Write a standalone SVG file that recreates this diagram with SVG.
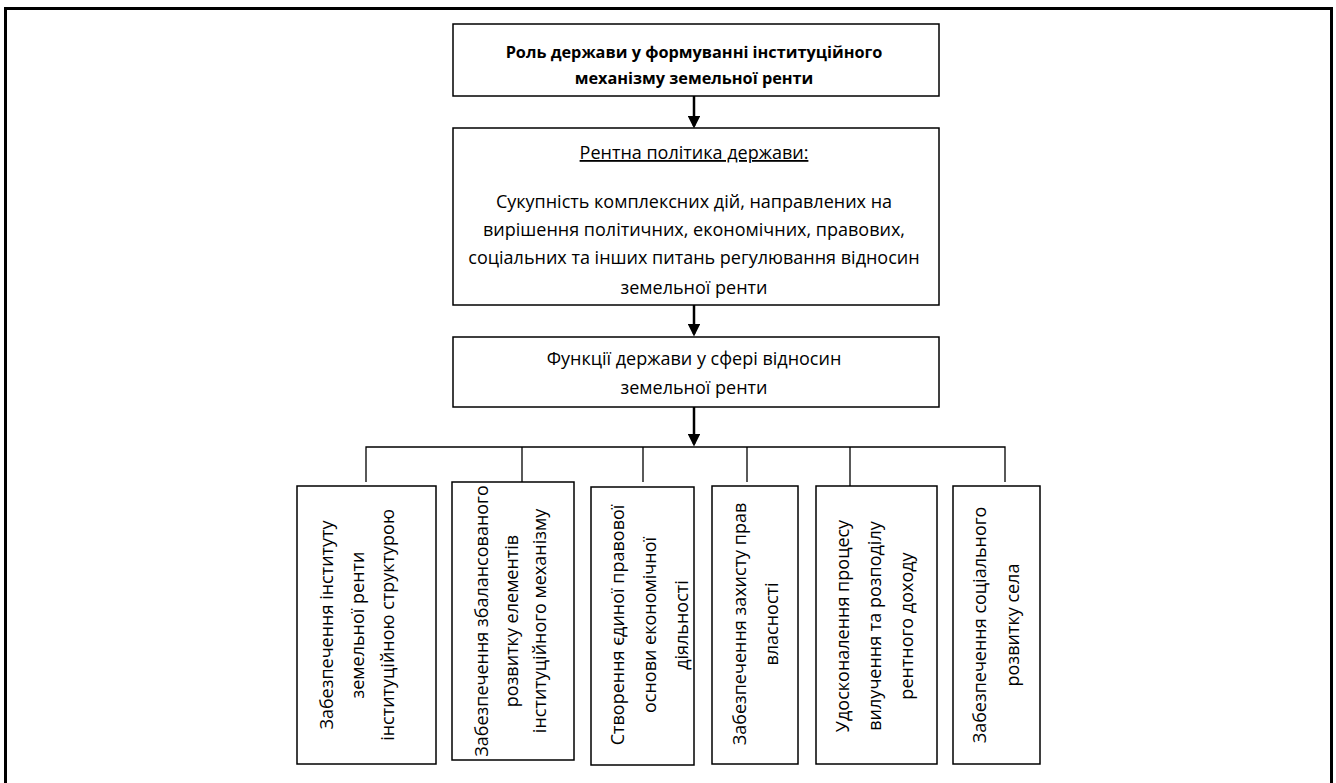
<svg xmlns="http://www.w3.org/2000/svg" width="1336" height="783" viewBox="0 0 1336 783">
<style>
.box{fill:#fff;stroke:#000;stroke-width:1.5}
.t{font-family:"Open Sans","Liberation Sans",sans-serif;font-size:18px;fill:#000;text-anchor:middle}
.b{font-weight:bold;font-size:16.3px}
.arr{stroke:#000;stroke-width:2.5;fill:none}
.ln{stroke:#000;stroke-width:1.3;fill:none}
</style>
<defs>
<marker id="ah" markerWidth="5" markerHeight="5" refX="4" refY="2.5" orient="auto" markerUnits="strokeWidth">
<path d="M0,0 L5,2.5 L0,5 Z" fill="#000"/>
</marker>
</defs>
<rect x="0" y="0" width="1336" height="783" fill="#fff"/>
<path d="M5.5,790 V8.5 H1331.5 V790" fill="none" stroke="#000" stroke-width="3"/>

<g id="connectors">
<line class="arr" x1="694" y1="96" x2="694" y2="126" marker-end="url(#ah)"/>
<line class="arr" x1="694" y1="305" x2="694" y2="334" marker-end="url(#ah)"/>
<line class="arr" x1="694" y1="407" x2="694" y2="444" marker-end="url(#ah)"/>
<path class="ln" d="M366,482 V447 H1005 V482"/>
<line class="ln" x1="522" y1="447" x2="522" y2="482"/>
<line class="ln" x1="643" y1="447" x2="643" y2="482"/>
<line class="ln" x1="747" y1="447" x2="747" y2="482"/>
<line class="ln" x1="850" y1="447" x2="850" y2="486"/>
</g>

<g id="n-role">
<rect class="box" x="453" y="24" width="486" height="72"/>
<text class="t b" x="694" y="58">Роль держави у формуванні інституційного</text>
<text class="t b" x="694" y="84">механізму земельної ренти</text>
</g>

<g id="n-policy">
<rect class="box" x="453" y="128" width="486" height="177"/>
<text class="t" x="694" y="159" text-decoration="underline">Рентна політика держави:</text>
<text class="t" x="694" y="208">Сукупність комплексних дій, направлених на</text>
<text class="t" x="694" y="236">вирішення політичних, економічних, правових,</text>
<text class="t" x="694" y="264">соціальних та інших питань регулювання відносин</text>
<text class="t" x="694" y="294">земельної ренти</text>
</g>

<g id="n-functions">
<rect class="box" x="453" y="337" width="486" height="70"/>
<text class="t" x="694" y="365">Функції держави у сфері відносин</text>
<text class="t" x="694" y="394">земельної ренти</text>
</g>

<g id="n-f1">
<rect class="box" x="297" y="486" width="139" height="278"/>
<g transform="translate(358,625) rotate(-90)">
<text class="t" x="0" y="-25">Забезпечення інституту</text>
<text class="t" x="0" y="6">земельної ренти</text>
<text class="t" x="0" y="36">інституційною структурою</text>
</g>
</g>

<g id="n-f2">
<rect class="box" x="452" y="482" width="122" height="278"/>
<g transform="translate(512,621) rotate(-90)">
<text class="t" x="0" y="-24">Забезпечення збалансованого</text>
<text class="t" x="0" y="6">розвитку елементів</text>
<text class="t" x="0" y="34">інституційного механізму</text>
</g>
</g>

<g id="n-f3">
<rect class="box" x="591" y="487" width="103" height="278"/>
<g transform="translate(650,625) rotate(-90)">
<text class="t" x="0" y="-26">Створення єдиної правової</text>
<text class="t" x="0" y="6">основи економічної</text>
<text class="t" x="0" y="38">діяльності</text>
</g>
</g>

<g id="n-f4">
<rect class="box" x="712" y="486" width="86" height="278"/>
<g transform="translate(756,624) rotate(-90)">
<text class="t" x="0" y="-10">Забезпечення захисту прав</text>
<text class="t" x="0" y="22">власності</text>
</g>
</g>

<g id="n-f5">
<rect class="box" x="816" y="486" width="121" height="278"/>
<g transform="translate(875,626) rotate(-90)">
<text class="t" x="0" y="-26">Удосконалення процесу</text>
<text class="t" x="0" y="6">вилучення та розподілу</text>
<text class="t" x="0" y="38">рентного доходу</text>
</g>
</g>

<g id="n-f6">
<rect class="box" x="953" y="486" width="87" height="278"/>
<g transform="translate(996,625) rotate(-90)">
<text class="t" x="0" y="-10">Забезпечення соціального</text>
<text class="t" x="0" y="23">розвитку села</text>
</g>
</g>
</svg>
